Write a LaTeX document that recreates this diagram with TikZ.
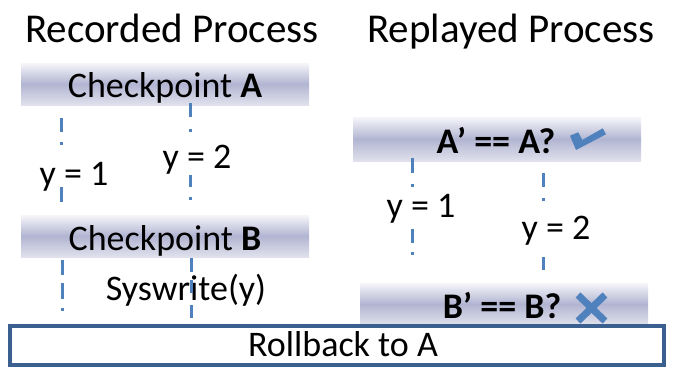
\documentclass[tikz,border=0pt]{standalone}
\usepackage{fontspec}
\setmainfont{Carlito}
\definecolor{lineblue}{RGB}{79,129,189}
\definecolor{boxblue}{RGB}{59,95,142}
\definecolor{bartop}{RGB}{246,246,250}
\definecolor{barmid}{RGB}{178,181,210}
\definecolor{barbot}{RGB}{224,225,236}
\begin{document}
\begin{tikzpicture}[x=1pt,y=-1pt,
  bar/.style={minimum width=288pt, minimum height=42pt, inner sep=0pt, top color=bartop, bottom color=barbot, middle color=barmid},
  txt/.style={font=\fontsize{36}{40}\selectfont, anchor=base, inner sep=0pt},
  ttl/.style={font=\fontsize{41}{46}\selectfont, anchor=base, inner sep=0pt},
  seg/.style={draw=lineblue, line width=3pt},
  tick/.style={fill=lineblue}
]
\useasboundingbox (0,0) rectangle (674,367);
% titles
\node[ttl] (t1) at (172,42) {Recorded Process};
\node[ttl] (t2) at (511,42) {Replayed Process};
% bars
\node[bar] (cpA) at (165,84) {};
\node[txt] (cpAt) at (165,97) {Checkpoint \textbf{A}};
\node[bar] (cpB) at (165,236) {};
\node[txt] (cpBt) at (165,250) {Checkpoint \textbf{B}};
\node[bar, minimum height=44pt] (aq) at (497,139) {};
\node[txt] (aqt) at (496,153) {\textbf{A’ == A?}};
\node[bar] (bq) at (504,304) {};
\node[txt] (bqt) at (502,318) {\textbf{B’ == B?}};
% recorded lines
\draw[seg] (61,118) -- (61,132);
\draw[seg] (61,142) -- (61,145);
\draw[seg] (61,187) -- (61,202);
\draw[seg] (190,103) -- (190,117);
\draw[seg] (190,129) -- (190,132);
\draw[seg] (190,175) -- (190,187);
\draw[seg] (190,197) -- (190,200);
\node[txt] (y1) at (74,185) {y = 1};
\node[txt] (y2) at (197,168) {y = 2};
\draw[seg] (62,260) -- (62,275);
\draw[seg] (62,283) -- (62,299);
\draw[seg] (62,308) -- (62,311);
\node[txt] (sw) at (186,300) {Syswrite(y)};
\draw[seg] (191,258) -- (191,272);
\draw[seg] (191,280) -- (191,293);
\draw[seg] (191,305) -- (191,318);
% replayed lines
\draw[seg] (412,158) -- (412,173);
\draw[seg] (412,184) -- (412,187);
\draw[seg] (412,229) -- (412,243);
\draw[seg] (412,252) -- (412,255);
\draw[seg] (543,173) -- (543,187);
\draw[seg] (543,198) -- (543,201);
\draw[seg] (543,257) -- (543,270);
\node[txt] (ry1) at (421,217) {y = 1};
\node[txt] (ry2) at (556,239) {y = 2};
% check and cross
\fill[tick] (570,135.7) -- (578.3,132.3) -- (582.3,140) -- (602.7,128.3) -- (606,134.3) -- (576,150) -- cycle;
\draw[lineblue, line width=7pt] (578,295) -- (605,321) (605,295) -- (578,321);
% rollback
\node[draw=boxblue, line width=4pt, fill=white, minimum width=654pt, minimum height=39pt, inner sep=0pt] (rb) at (337,345.5) {};
\node[txt] (rbt) at (343,356) {Rollback to A};
\end{tikzpicture}
\end{document}
